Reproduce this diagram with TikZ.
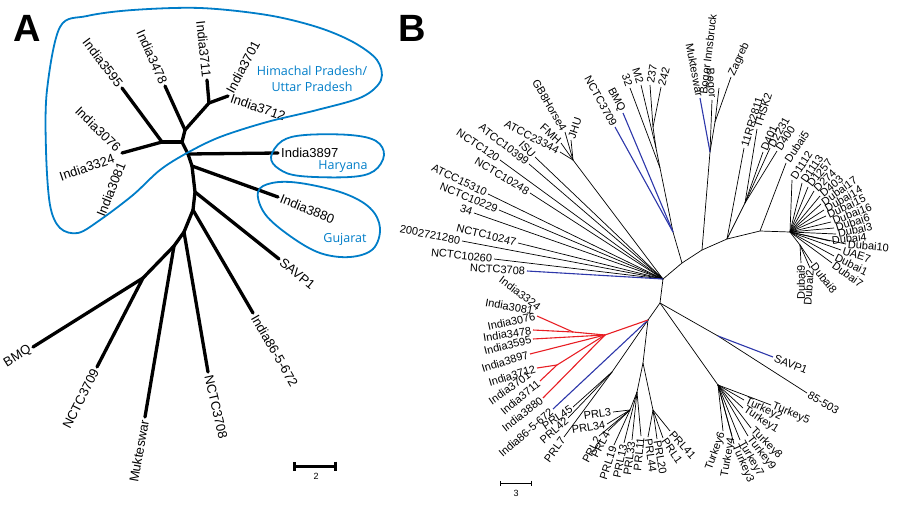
\documentclass[tikz,border=0pt]{standalone}
\usepackage{fontspec}
\setmainfont{Liberation Sans}
\newfontfamily\regionfont{Open Sans}
\usepackage{tikz}
\usetikzlibrary{arrows.meta}

\definecolor{region}{RGB}{0,125,200}
\definecolor{cladeblue}{RGB}{45,55,170}
\definecolor{cladered}{RGB}{232,30,36}

\begin{document}
\begin{tikzpicture}[x=1pt, y=-1pt]
\useasboundingbox (0,0) rectangle (900,514);

\node[font=\fontsize{38}{40}\selectfont\bfseries] (panelA) at (27,28) {A};
\node[font=\fontsize{38}{40}\selectfont\bfseries] (panelB) at (412,28) {B};

%% ---------------- panel A
\coordinate (a0) at (188,154);
\coordinate (a1) at (182,142);
\coordinate (a2) at (162,142);
\coordinate (a3) at (185,130);
\coordinate (a4) at (209,103);
\coordinate (a5) at (192,166);
\coordinate (a6) at (195,192);
\coordinate (a7) at (193,210);
\coordinate (a8) at (184,232);
\coordinate (a9) at (174,246);
\coordinate (a10) at (143,278);
\coordinate (t3076) at (122,153);
\coordinate (t3701) at (228,96);

\begin{scope}[every node/.style={font=\fontsize{13}{15}\selectfont, inner sep=3pt}]
  \node[rotate=-53, anchor=east] (i3595) at (122,88) {India3595};
  \node[rotate=-66, anchor=east] (i3478) at (165,86) {India3478};
  \node[rotate=-84, anchor=east] (i3711) at (207,80) {India3711};
  \node[rotate=62, anchor=west] (i3701) at (228,95) {India3701};
  \node[rotate=-19, anchor=west] (i3712) at (228,97) {India3712};
  \node[rotate=-44, anchor=east] (i3076) at (121,151) {India3076};
  \node[rotate=19, anchor=east] (i3324) at (117,157) {India3324};
  \node[rotate=68, anchor=east] (i3081) at (123,160) {India3081};
  \node[anchor=west] (i3897) at (278,153) {India3897};
  \node[rotate=-22, anchor=west] (i3880) at (278,197) {India3880};
  \node[rotate=-39, anchor=west] (savp) at (279,259) {SAVP1};
  \node[rotate=-60, anchor=west] (i86) at (253,313) {India86-5-672};
  \node[rotate=-77, anchor=west] (n3708) at (208,372) {NCTC3708};
  \node[rotate=80, anchor=east] (mukt) at (145,417) {Mukteswar};
  \node[rotate=63, anchor=east] (n3709) at (97,367) {NCTC3709};
  \node[rotate=32, anchor=east] (bmq) at (33,347) {BMQ};
\end{scope}

\begin{scope}[every edge/.style={draw=black, line width=3.3pt, line cap=round}]
  \path (a0) edge (a1) (a1) edge (a2) (a1) edge (a3) (a3) edge (a4);
  \path (a0) edge (a5) (a5) edge (a6) (a6) edge (a7) (a7) edge (a8) (a8) edge (a9) (a9) edge (a10);
  \path (a2) edge (i3595.east) (a2) edge (t3076) (a3) edge (i3478.east) (a4) edge (i3711.east) (a4) edge (t3701);
  \path (a0) edge (i3897.west) (a5) edge (i3880.west) (a6) edge (savp.west) (a7) edge (i86.west);
  \path (a8) edge (n3708.west) (a9) edge (mukt.east) (a10) edge (n3709.east) (a10) edge (bmq.east);
\end{scope}

% regions
\begin{scope}[region, line width=1.8pt]
  \draw plot[smooth cycle, tension=0.55] coordinates {(60,27) (87,16) (133,10) (200,8) (267,15) (317,27) (353,42) (377,60) (381,80) (362,97) (317,110) (267,122) (220,137) (187,153) (160,170) (133,195) (100,220) (78,233) (60,228) (50,205) (46,150) (47,90)};
  \draw plot[smooth cycle, tension=0.6] coordinates {(271,157) (282,141) (305,135) (350,135) (376,141) (384,155) (374,171) (350,177) (300,176) (279,169)};
  \draw plot[smooth cycle, tension=0.6] coordinates {(258,192) (272,183) (300,183) (343,193) (370,208) (380,228) (373,249) (350,257) (320,253) (290,236) (265,214)};
\end{scope}
\begin{scope}[every node/.style={region, font=\regionfont\fontsize{12.5}{14}\selectfont}]
  \node (hp) at (312,71) {Himachal Pradesh/};
  \node (up) at (312,87) {Uttar Pradesh};
  \node (har) at (343,167) {Haryana};
  \node (guj) at (345,239) {Gujarat};
\end{scope}

% scale bar A
\coordinate (sa1) at (293,466);
\coordinate (sa2) at (337,466);
\draw[{Bar[width=9pt]}-{Bar[width=9pt]}, line width=3pt] (sa1) -- (sa2);
\node[font=\fontsize{9}{10}\selectfont] (sal) at (316,476) {2};

%% ---------------- panel B
\coordinate (J1) at (663,279);
\coordinate (J2) at (648,320);
\coordinate (J3) at (660,303);
\coordinate (U1) at (682,263);
\coordinate (U2) at (702,250);
\coordinate (U3) at (727,239);
\coordinate (U4) at (745,203);
\coordinate (U5) at (760,231);
\coordinate (D0) at (790,232);
\coordinate (D1) at (800,245);
\coordinate (B0) at (673,232);
\coordinate (K0) at (660,168);
\coordinate (K1) at (656,148);
\coordinate (K2) at (653,127);
\coordinate (M0) at (710,152);
\coordinate (M1) at (715,122);
\coordinate (tinns) at (719,88);
\coordinate (F2) at (573,160);
\coordinate (S1) at (718,336);
\coordinate (T0) at (718,385);
\coordinate (R1) at (605,335);
\coordinate (R2) at (573,332);
\coordinate (R3) at (557,365);
\coordinate (P1) at (612,372);
\coordinate (V1) at (643,363);
\coordinate (V2) at (637,392);
\coordinate (V3) at (653,410);
\coordinate (N1) at (630,410);

\begin{scope}[every node/.style={font=\fontsize{11}{13}\selectfont, inner xsep=1.8pt, inner ysep=1pt}]
  % left fan
  \node[rotate=-3, anchor=east] (b3708) at (527,271) {NCTC3708};
  \node[rotate=-6, anchor=east] (b10260) at (494,259) {NCTC10260};
  \node[rotate=-11, anchor=east] (b2002) at (462,241) {2002721280};
  \node[rotate=-14, anchor=east] (b10247) at (518,243) {NCTC10247};
  \node[rotate=-19, anchor=east] (b34) at (474,213) {34};
  \node[rotate=-22, anchor=east] (b10229) at (499,210) {NCTC10229};
  \node[rotate=-26, anchor=east] (b15310) at (488,194) {ATCC15310};
  \node[rotate=-31, anchor=east] (b10248) at (530,193) {NCTC10248};
  \node[rotate=-34, anchor=east] (b120) at (500,160) {NCTC120};
  \node[rotate=-38, anchor=east] (b10399) at (529,164) {ATCC10399};
  \node[rotate=-46, anchor=east] (bisu) at (535,157) {ISU};
  \node[rotate=-28, anchor=east] (b23344) at (560,152) {ATCC23344};
  \node[rotate=-42, anchor=east] (bfmh) at (561,143) {FMH};
  \node[rotate=-60, anchor=east] (bgb8) at (565,132) {GB8Horse4};
  \node[rotate=72, anchor=west] (bjhu) at (571,140) {JHU};
  % top
  \node[rotate=-61, anchor=east] (b3709) at (615,127) {NCTC3709};
  \node[rotate=-62, anchor=east] (bbmq) at (623,113) {BMQ};
  \node[rotate=-70, anchor=east] (b32) at (630,88) {32};
  \node[rotate=-72, anchor=east] (bm2) at (641,85) {M2};
  \node[rotate=80, anchor=west] (b237) at (650,85) {237};
  \node[rotate=75, anchor=west] (b242) at (661,87) {242};
  \node[rotate=-79, anchor=east] (bmukt) at (700,98) {Mukteswar};
  \node[rotate=-85, anchor=east] (bbogor) at (712,100) {Bogor};
  \node[rotate=83, anchor=west] (binns) at (704,96) {Bogor Innsbruck};
  \node[rotate=65, anchor=west] (bzag) at (731,77) {Zagreb};
  \node[rotate=73, anchor=west] (b11rr) at (744,148) {11RR2811};
  \node[rotate=72, anchor=west] (bthsk) at (757,129) {THSK2};
  \node[rotate=66, anchor=west] (bd401) at (763,152) {D401};
  \node[rotate=61, anchor=west] (bd2231) at (770,148) {D2231};
  \node[rotate=57, anchor=west] (bd400) at (777,151) {D400};
  % Dubai
  \node[rotate=56, anchor=west] (bdub5) at (786,163) {Dubai5};
  \node[rotate=57, anchor=west] (bd1112) at (792,180) {D1112};
  \node[rotate=55, anchor=west] (bd1113) at (802,183) {D1113};
  \node[rotate=50, anchor=west] (bd1257) at (808,187) {D1257};
  \node[rotate=44, anchor=west] (bd274) at (814,191) {D274};
  \node[rotate=40, anchor=west] (bd403) at (820,196) {D403};
  \node[rotate=36, anchor=west] (bdub17) at (821,204) {Dubai17};
  \node[rotate=30, anchor=west] (bdub14) at (824,210) {Dubai14};
  \node[rotate=25, anchor=west] (bdub15) at (826,216) {Dubai15};
  \node[rotate=21, anchor=west] (bdub16) at (831,222) {Dubai16};
  \node[rotate=17, anchor=west] (bdub6) at (834,228) {Dubai6};
  \node[rotate=12, anchor=west] (bdub3) at (836,234) {Dubai3};
  \node[rotate=7, anchor=west] (bdub4) at (830,241) {Dubai4};
  \node[rotate=-5, anchor=west] (bdub10) at (846,244) {Dubai10};
  \node[rotate=-18, anchor=west] (buae7) at (841,250) {UAE7};
  \node[rotate=-26, anchor=west] (bdub1) at (834,256) {Dubai1};
  \node[rotate=-36, anchor=west] (bdub7) at (832,263) {Dubai7};
  \node[rotate=-52, anchor=west] (bdub8) at (812,263) {Dubai8};
  \node[rotate=90, anchor=east] (bdub9) at (801,263) {Dubai9};
  \node[rotate=86, anchor=east] (bdub2) at (810,268) {Dubai2};
  % SAVP1 / 85-503
  \node[rotate=-22, anchor=west] (bsavp) at (773,357) {SAVP1};
  \node[rotate=-31, anchor=west] (b85503) at (807,393) {85-503};
  % Turkey
  \node[rotate=-23, anchor=west] (bt5) at (771,405) {Turkey5};
  \node[rotate=-25, anchor=west] (bt2) at (744,400) {Turkey2};
  \node[rotate=-33, anchor=west] (bt1) at (743,408) {Turkey1};
  \node[rotate=-45, anchor=west] (bt8) at (751,428) {Turkey8};
  \node[rotate=-52, anchor=west] (bt9) at (748,436) {Turkey9};
  \node[rotate=-60, anchor=west] (bt7) at (740,440) {Turkey7};
  \node[rotate=-66, anchor=west] (bt3) at (734,444) {Turkey3};
  \node[rotate=80, anchor=east] (bt4) at (732,436) {Turkey4};
  \node[rotate=70, anchor=east] (bt6) at (723,431) {Turkey6};
  % India clade
  \node[rotate=-37, anchor=east] (bi3324) at (541,309) {India3324};
  \node[rotate=-10, anchor=east] (bi3081) at (535,311) {India3081};
  \node[rotate=12, anchor=east] (bi3076) at (537,316) {India3076};
  \node[rotate=9, anchor=east] (bi3478) at (533,330) {India3478};
  \node[rotate=14, anchor=east] (bi3595) at (533,339) {India3595};
  \node[rotate=17, anchor=east] (bi3897) at (530,354) {India3897};
  \node[rotate=17, anchor=east] (bi3712) at (537,368) {India3712};
  \node[rotate=35, anchor=east] (bi3701) at (531,373) {India3701};
  \node[rotate=40, anchor=east] (bi3711) at (540,381) {India3711};
  \node[rotate=38, anchor=east] (bi3880) at (543,398) {India3880};
  \node[rotate=41, anchor=east] (bi86) at (553,409) {India86-5-672};
  % PRL
  \node[rotate=34, anchor=east] (bp45) at (573,407) {PRL45};
  \node[rotate=42, anchor=east] (bp42) at (568,418) {PRL42};
  \node[rotate=54, anchor=east] (bp7) at (564,437) {PRL7};
  \node[rotate=8, anchor=east] (bp3) at (613,412) {PRL3};
  \node[rotate=10, anchor=east] (bp34) at (607,424) {PRL34};
  \node[rotate=62, anchor=east] (bp2) at (599,436) {PRL2};
  \node[rotate=62, anchor=east] (bp4) at (608,431) {PRL4};
  \node[rotate=72, anchor=east] (bp19) at (614,445) {PRL19};
  \node[rotate=78, anchor=east] (bp13) at (624,443) {PRL13};
  \node[rotate=82, anchor=east] (bp33) at (632,440) {PRL33};
  \node[rotate=84, anchor=east] (bp11) at (641,436) {PRL11};
  \node[rotate=-82, anchor=west] (bp44) at (648,437) {PRL44};
  \node[rotate=-80, anchor=west] (bp20) at (657,439) {PRL20};
  \node[rotate=-55, anchor=west] (bp1) at (663,438) {PRL1};
  \node[rotate=-48, anchor=west] (bp41) at (670,431) {PRL41};
\end{scope}

\begin{scope}[every edge/.style={draw=black, line width=0.7pt}]
  % backbone
  \path (J1) edge (J3) (J3) edge (J2) (J1) edge (U1) (U1) edge (U2) (U2) edge (U3) (U3) edge (U5) (U5) edge (D0);
  % left fan
  \path (J1) edge (b10260.east) (J1) edge (b2002.east) (J1) edge (b10247.east) (J1) edge (b34.east)
        (J1) edge (b10229.east) (J1) edge (b15310.east) (J1) edge (b10248.east) (J1) edge (b120.east)
        (J1) edge (b10399.east) (J1) edge (bisu.east) (J1) edge (F2);
  \path (F2) edge (b23344.east) (F2) edge (bfmh.east) (F2) edge (bgb8.east) (F2) edge (bjhu.west);
  % top
  \path (U1) edge (B0) (B0) edge (K0) (K0) edge (K1) (K1) edge (K2)
        (K0) edge (b32.east) (K1) edge (bm2.east) (K2) edge (b237.west) (K2) edge (b242.west);
  \path (U2) edge (M0) (M0) edge (bbogor.east) (M0) edge (M1) (M1) edge (tinns) (M1) edge (bzag.west);
  \path (U3) edge (b11rr.west) (U3) edge (U4) (U4) edge (bthsk.west) (U4) edge (bd401.west)
        (U4) edge (bd2231.west) (U4) edge (bd400.west) (U5) edge (bdub5.west);
  % Dubai
  \path (D0) edge (bd1112.west) (D0) edge (bd1113.west) (D0) edge (bd1257.west) (D0) edge (bd274.west)
        (D0) edge (bd403.west) (D0) edge (bdub17.west) (D0) edge (bdub14.west) (D0) edge (bdub15.west)
        (D0) edge (bdub16.west) (D0) edge (bdub6.west) (D0) edge (bdub3.west) (D0) edge (bdub4.west)
        (D0) edge (bdub10.west) (D0) edge (buae7.west) (D0) edge (bdub1.west) (D0) edge (bdub7.west)
        (D0) edge (D1) (D1) edge (bdub8.west) (D1) edge (bdub9.east) (D1) edge (bdub2.east);
  % SAVP1, Turkey
  \path (J3) edge (S1) (S1) edge (b85503.west) (J3) edge (T0);
  \path (T0) edge (bt5.west) (T0) edge (bt2.west) (T0) edge (bt1.west) (T0) edge (bt8.west)
        (T0) edge (bt9.west) (T0) edge (bt7.west) (T0) edge (bt3.west) (T0) edge (bt4.east) (T0) edge (bt6.east);
  % PRL
  \path (J2) edge (P1) (P1) edge (bp45.east) (P1) edge (bp42.east) (P1) edge (bp7.east);
  \path (J2) edge (V1) (V1) edge (V2) (V1) edge (V3) (V2) edge (N1)
        (N1) edge (bp3.east) (N1) edge (bp34.east) (N1) edge (bp2.east) (N1) edge (bp4.east) (N1) edge (bp19.east)
        (V2) edge (bp13.east) (V2) edge (bp33.east) (V2) edge (bp11.east)
        (V3) edge (bp44.west) (V3) edge (bp20.west) (V3) edge (bp1.west) (V3) edge (bp41.west);
\end{scope}

\begin{scope}[every edge/.style={draw=cladeblue, line width=1.1pt}]
  \path (J1) edge (b3708.east) (B0) edge (b3709.east) (B0) edge (bbmq.east) (M0) edge (bmukt.east)
        (S1) edge (bsavp.west) (J2) edge (bi86.east);
\end{scope}

\begin{scope}[every edge/.style={draw=cladered, line width=1.1pt}]
  \path (J2) edge (R1) (R1) edge (R2) (R1) edge (R3)
        (R2) edge (bi3076.east) (R2) edge (bi3478.east)
        (R1) edge (bi3595.east) (R1) edge (bi3897.east) (R1) edge (bi3880.east)
        (R3) edge (bi3712.east) (R3) edge (bi3711.east);
\end{scope}

% scale bar B
\coordinate (sb1) at (500,483);
\coordinate (sb2) at (532,483);
\draw[{Bar[width=5pt]}-{Bar[width=5pt]}, line width=0.7pt] (sb1) -- (sb2);
\node[font=\fontsize{9}{10}\selectfont] (sbl) at (516,493) {3};

\end{tikzpicture}
\end{document}
